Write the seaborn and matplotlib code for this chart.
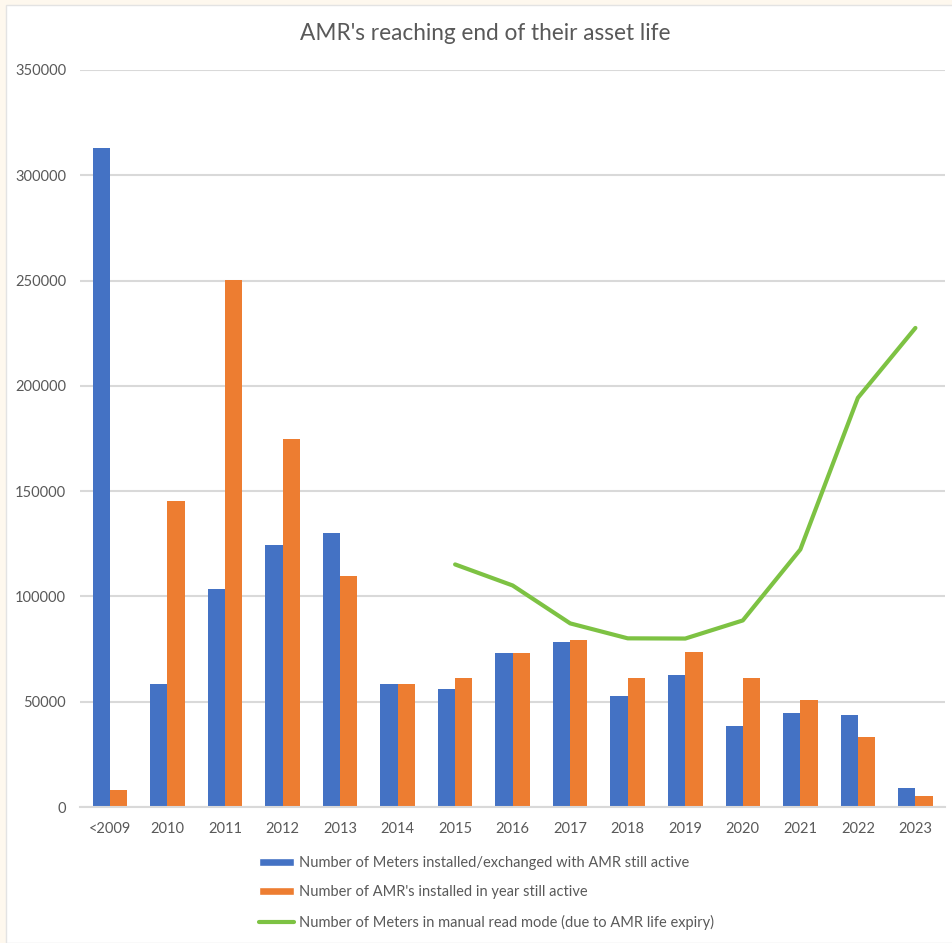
import numpy as np
import pandas as pd
import seaborn as sns
import matplotlib
matplotlib.use("Agg")
import matplotlib.pyplot as plt
from matplotlib.patches import Rectangle
from matplotlib.lines import Line2D

categories = ["<2009", "2010", "2011", "2012", "2013", "2014", "2015", "2016",
              "2017", "2018", "2019", "2020", "2021", "2022", "2023"]
meters_active = [312900, 58400, 103300, 124600, 130300, 58400, 56000, 73100,
                 78300, 52700, 62700, 38500, 44600, 43700, 9000]
amr_active = [8000, 145300, 250500, 174600, 109500, 58400, 61300, 73100,
              79300, 61300, 73600, 61300, 50800, 33200, 5200]
manual_years = ["2015", "2016", "2017", "2018", "2019", "2020", "2021", "2022", "2023"]
manual_read = [115200, 105200, 87200, 80100, 80000, 88600, 122300, 194300, 227500]

s1 = "Number of Meters installed/exchanged with AMR still active"
s2 = "Number of AMR's installed in year still active"
s3 = "Number of Meters in manual read mode (due to AMR life expiry)"

BLUE, ORANGE, GREEN = "#4472C4", "#ED7D31", "#7DC243"
GRID = "#D9D9D9"
TXT = "#595959"

sns.set_theme(style="white")
plt.rcParams["font.family"] = ["Lato", "DejaVu Sans"]

df = pd.DataFrame({
    "year": categories * 2,
    "value": meters_active + amr_active,
    "series": [s1] * len(categories) + [s2] * len(categories),
})
line_df = pd.DataFrame({
    "pos": [categories.index(y) for y in manual_years],
    "value": manual_read,
})

fig = plt.figure(figsize=(9.52, 9.43), dpi=100)
fig.patch.set_facecolor("#FEF8EE")
fig.patches.append(Rectangle((6 / 952, 0), 1, 1 - 5 / 943, transform=fig.transFigure,
                             facecolor="white", edgecolor="#E3E3E3", linewidth=1, zorder=-1))
ax = fig.add_axes([0.084, 0.1442, 0.909, 0.7816])
ax.set_facecolor("white")

sns.barplot(data=df, x="year", y="value", hue="series", order=categories,
            palette=[BLUE, ORANGE], width=0.6, saturation=1, linewidth=0,
            ax=ax, legend=False)
sns.lineplot(data=line_df, x="pos", y="value", color=GREEN, linewidth=3, ax=ax, legend=False)

ax.set_ylim(0, 350000)
ax.set_xlim(-0.52, len(categories) - 0.48)
ax.set_yticks(np.arange(0, 350001, 50000))
ax.yaxis.grid(True, color=GRID, linewidth=1.5)
ax.set_axisbelow(True)
for sp in ["top", "right", "left"]:
    ax.spines[sp].set_visible(False)
ax.spines["bottom"].set_color(GRID)
ax.spines["bottom"].set_linewidth(1.5)
ax.tick_params(axis="both", length=0, labelsize=10.5, labelcolor=TXT)
ax.tick_params(axis="y", pad=10)
ax.tick_params(axis="x", pad=11)
ax.set_xlabel("")
ax.set_ylabel("")

fig.text(0.51, 1 - 33 / 943, "AMR's reaching end of their asset life", ha="center", va="center",
         fontsize=16.3, color=TXT)

handles = [Rectangle((0, 0), 1, 1, facecolor=BLUE),
           Rectangle((0, 0), 1, 1, facecolor=ORANGE),
           Line2D([0], [0], color=GREEN, linewidth=3)]
fig.legend(handles, [s1, s2, s3], loc="upper left", bbox_to_anchor=(259 / 952, 1 - 856 / 943),
           frameon=False, fontsize=10.5, labelcolor=TXT, handlelength=2.4, handleheight=0.5,
           handletextpad=0.35, labelspacing=1.05, borderpad=0, borderaxespad=0)

fig.savefig("out.png", dpi=100, facecolor=fig.get_facecolor())
